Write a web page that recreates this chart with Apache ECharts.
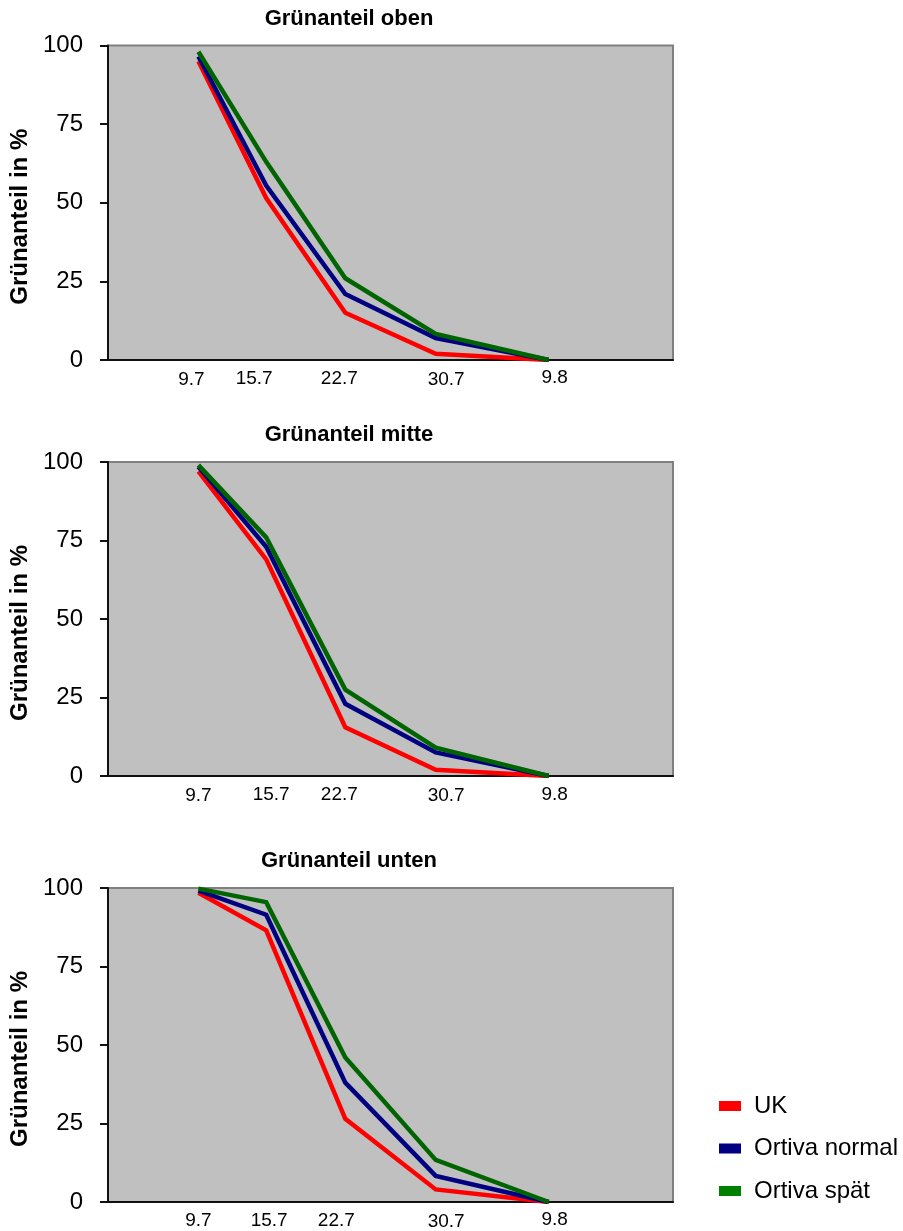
<!DOCTYPE html>
<html>
<head>
<meta charset="utf-8">
<script src="https://cdn.jsdelivr.net/npm/echarts@6/dist/echarts.min.js"></script>
<style>
  html, body { margin: 0; padding: 0; background: #fff; }
  #chart { width: 903px; height: 1231px; }
</style>
</head>
<body>
<div id="chart"></div>
<script>
// ---- data ----
const dateLabels = ['9.7', '15.7', '22.7', '30.7', '9.8'];
const dateDays = [190, 196, 203, 211, 221]; // day of year
const yTicks = [0, 25, 50, 75, 100];
const seriesNames = ['UK', 'Ortiva normal', 'Ortiva spät'];
const panelTitles = ['Grünanteil oben', 'Grünanteil mitte', 'Grünanteil unten'];

const obenUK = [95, 51.5, 15, 2, 0];
const obenNormal = [96.5, 55.5, 21, 7, 0];
const obenSpaet = [98, 63, 26, 8.3, 0];

const mitteUK = [97, 69, 15.5, 2, 0];
const mitteNormal = [98.5, 73, 23, 7.5, 0];
const mitteSpaet = [99, 76, 27.5, 9, 0];

const untenUK = [98.5, 86.5, 26.5, 4, 0];
const untenNormal = [99.2, 91.5, 38, 8.3, 0];
const untenSpaet = [99.8, 95.5, 46, 13.4, 0];

// ---- layout / style ----
const FONT = '"Liberation Sans", Arial, sans-serif';
const lineColors = ['#ff0000', '#000080', '#006400'];
const legendColors = ['#ff0000', '#000080', '#008000'];
const grids = [
  { top: 45.5, height: 314.5 },
  { top: 462, height: 314 },
  { top: 888, height: 316 }
];
const titleY = [18.5, 435, 861];
// per-panel x label offsets [dx, dy] (px) relative to the date position
const labelOffsets = [
  [[-7, 4], [-12, 1], [-6, 1], [10.5, 3], [6, 0]],
  [[0, 4], [5, 2], [-6, 2], [10.5, 3], [6, 1]],
  [[0, 1], [3, 1], [-9, 2], [10.5, 3], [6, 0]]
];

const panelData = [
  [obenUK, obenNormal, obenSpaet],
  [mitteUK, mitteNormal, mitteSpaet],
  [untenUK, untenNormal, untenSpaet]
];

function richFor(p) {
  const rich = {};
  labelOffsets[p].forEach(function (o, i) {
    const dx = o[0], dy = o[1];
    const l = dx > 0 ? 2 * dx : 0;
    const r = dx < 0 ? -2 * dx : 0;
    rich['p' + i] = {
      fontSize: 19, fontFamily: FONT, color: '#000',
      lineHeight: 20, padding: [dy, r, 0, l]
    };
  });
  return rich;
}

const option = {
  backgroundColor: '#ffffff',
  animation: false,
  title: panelTitles.map(function (t, i) {
    return {
      text: t, left: 349, top: titleY[i], padding: 0,
      textAlign: 'center', textVerticalAlign: 'middle',
      textStyle: { fontFamily: FONT, fontSize: 22, fontWeight: 'bold', color: '#000' }
    };
  }),
  legend: {
    orient: 'vertical', left: 714, top: 1089,
    icon: 'rect', itemWidth: 22, itemHeight: 10, itemGap: 18.5,
    textStyle: { fontFamily: FONT, fontSize: 24, color: '#000', padding: [0, 0, 0, 8] },
    data: seriesNames.map(function (n, i) {
      return { name: n, itemStyle: { color: legendColors[i] } };
    })
  },
  grid: grids.map(function (g) {
    return {
      left: 108, right: 230, top: g.top, height: g.height,
      show: true, backgroundColor: '#c0c0c0', borderColor: '#808080', borderWidth: 2,
      containLabel: false
    };
  }),
  xAxis: grids.map(function (g, p) {
    return {
      type: 'value', gridIndex: p, min: 182, max: 232,
      splitLine: { show: false },
      axisLine: { show: true, onZero: false, lineStyle: { color: '#111', width: 2 } },
      axisTick: { show: false },
      axisLabel: {
        show: true, margin: 8,
        customValues: dateDays,
        formatter: function (v) {
          const i = dateDays.indexOf(v);
          return i < 0 ? '' : '{p' + i + '|' + dateLabels[i] + '}';
        },
        rich: richFor(p)
      }
    };
  }),
  yAxis: grids.map(function (g, p) {
    return {
      type: 'value', gridIndex: p, min: 0, max: 100, interval: 25,
      name: 'Grünanteil in %', nameLocation: 'middle', nameGap: 74, nameRotate: 90,
      nameTextStyle: { fontFamily: FONT, fontSize: 24, fontWeight: 'bold', color: '#000', padding: [0, 28, 0, 0] },
      splitLine: { show: false },
      axisLine: { show: true, lineStyle: { color: '#111', width: 2 } },
      axisTick: { show: true, inside: false, length: 8, lineStyle: { color: '#111', width: 2 } },
      axisLabel: {
        margin: 25, fontFamily: FONT, fontSize: 24, color: '#000',
        customValues: yTicks
      }
    };
  }),
  series: []
};

panelData.forEach(function (sets, p) {
  sets.forEach(function (vals, s) {
    option.series.push({
      name: seriesNames[s], type: 'line',
      xAxisIndex: p, yAxisIndex: p,
      data: dateDays.map(function (d, i) { return [d, vals[i]]; }),
      symbol: 'none', showSymbol: false,
      lineStyle: { color: lineColors[s], width: 4.5, join: 'miter' },
      itemStyle: { color: lineColors[s] },
      emphasis: { disabled: true }
    });
  });
});

const chart = echarts.init(document.getElementById('chart'), null, { renderer: 'canvas' });
chart.setOption(option);
</script>
</body>
</html>
